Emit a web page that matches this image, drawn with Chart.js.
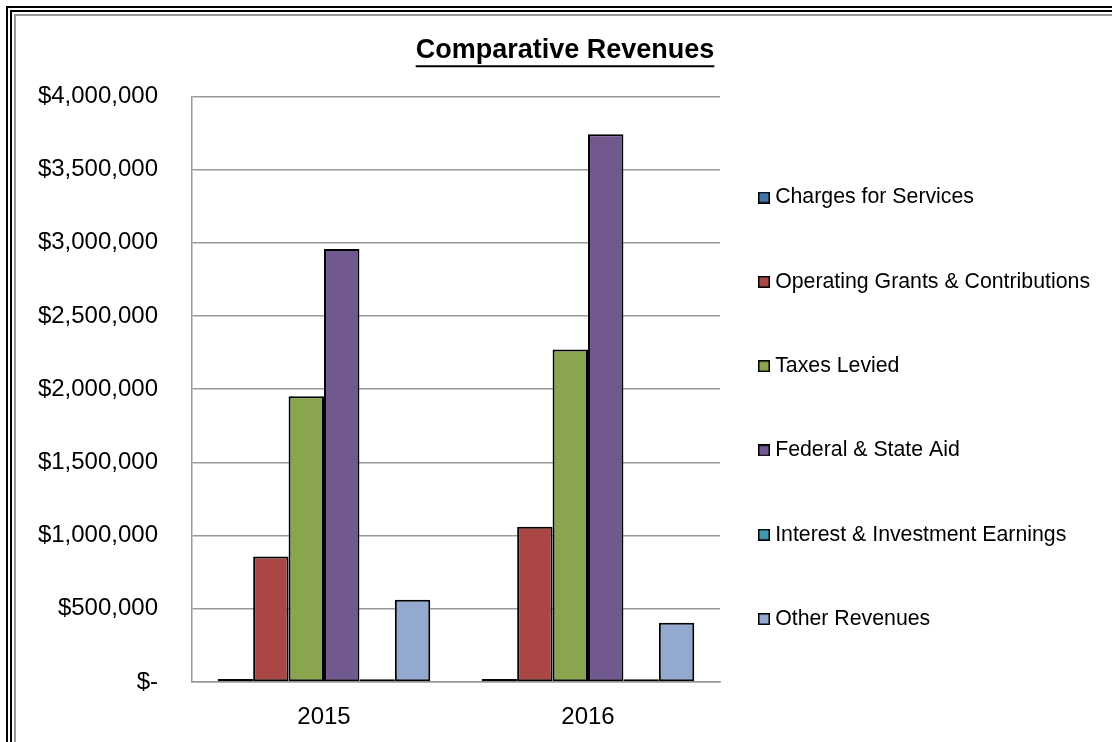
<!DOCTYPE html>
<html>
<head>
<meta charset="utf-8">
<title>Comparative Revenues</title>
<script src="https://cdn.jsdelivr.net/npm/chart.js@4.4.1/dist/chart.umd.min.js"></script>
<style>
	html, body { margin: 0; padding: 0; background: #fff; overflow: hidden; }
	.frame { position: absolute; width: 1200px; height: 800px; }
	#frame1 { left: 6px; top: 6px; border: 2px solid #000; }
	#frame2 { left: 10px; top: 10px; border: 2px solid #000; }
	#frame3 { left: 14px; top: 14px; border: 2px solid #999; }
	#myChart { position: absolute; left: 0; top: 0; }
</style>
</head>
<body>
<div class="frame" id="frame1"></div>
<div class="frame" id="frame2"></div>
<div class="frame" id="frame3"></div>
<canvas id="myChart" width="1112" height="742"></canvas>
<script>
const years = ['2015', '2016'];
const seriesNames = [
	'Charges for Services',
	'Operating Grants & Contributions',
	'Taxes Levied',
	'Federal & State Aid',
	'Interest & Investment Earnings',
	'Other Revenues'
];
const chargesForServices = [20000, 20000];
const operatingGrants = [857000, 1060000];
const taxesLevied = [1951000, 2271000];
const federalStateAid = [2958000, 3741000];
const interestEarnings = [18000, 18000];
const otherRevenues = [562000, 405000];
const seriesColors = ['#4572A7', '#AA4643', '#89A54E', '#71588F', '#4198AF', '#93A9CF'];

const FONT = '"Liberation Sans", Arial, sans-serif';

// small square swatches for the legend (filled, black edge)
const swatches = seriesColors.map((c) => {
	const cv = document.createElement('canvas');
	cv.width = 12;
	cv.height = 12;
	const g = cv.getContext('2d');
	g.fillStyle = c;
	g.fillRect(0, 0, 12, 12);
	g.strokeStyle = '#000';
	g.lineWidth = 1.5;
	g.strokeRect(0.75, 0.75, 10.5, 10.5);
	return cv;
});

function moneyTick(value) {
	if (value === 0) return '$-';
	return '$' + value.toLocaleString('en-US');
}

// legend and title sit a bit off from where Chart.js puts them by default
const placeBoxes = {
	id: 'placeBoxes',
	afterLayout(chart) {
		const lg = chart.legend;
		const pad = lg.options.labels.padding;
		lg.left = chart.chartArea.right + 43.5 - pad;
		lg.top = chart.chartArea.top + 90.5 - pad;
		lg.right = chart.width;
		lg.bottom = chart.height;
		chart.titleBlock.left += 18;
	},
	afterDraw(chart) {
		// underline the title
		const tb = chart.titleBlock;
		const ctx = chart.ctx;
		ctx.save();
		ctx.font = 'bold 27px ' + FONT;
		const w = ctx.measureText(tb.options.text).width;
		const cx = (tb.left + tb.right) / 2;
		const y = tb.top + tb.options.padding.top + 16.2 + 16;
		ctx.strokeStyle = '#000';
		ctx.lineWidth = 2;
		ctx.beginPath();
		ctx.moveTo(cx - w / 2, y);
		ctx.lineTo(cx + w / 2, y);
		ctx.stroke();
		ctx.restore();
	}
};

const seriesValues = [chargesForServices, operatingGrants, taxesLevied, federalStateAid, interestEarnings, otherRevenues];

const ctx = document.getElementById('myChart').getContext('2d');
const myChart = new Chart(ctx, {
	type: 'bar',
	data: {
		labels: years,
		datasets: seriesNames.map((name, i) => ({
			label: name,
			data: seriesValues[i],
			backgroundColor: seriesColors[i],
			borderColor: '#000',
			borderWidth: 2,
			borderSkipped: false,
			categoryPercentage: 0.805,
			barPercentage: 1
		}))
	},
	options: {
		responsive: false,
		animation: false,
		devicePixelRatio: 1,
		layout: {
			padding: { left: 0, right: 0, top: 20, bottom: 0 }
		},
		scales: {
			x: {
				grid: { display: false },
				border: { display: true, color: '#999', width: 1.5 },
				ticks: {
					color: '#000',
					padding: 13,
					font: { family: FONT, size: 24 }
				},
				afterFit(scale) { scale.height = 60; }
			},
			y: {
				min: 0,
				max: 4000000,
				grid: { color: '#999', lineWidth: 1.5, drawTicks: false },
				border: { display: true, color: '#999', width: 1.5 },
				ticks: {
					stepSize: 500000,
					color: '#000',
					padding: 34,
					font: { family: FONT, size: 24 },
					callback: moneyTick
				},
				afterFit(scale) { scale.width = 192; }
			}
		},
		plugins: {
			title: {
				display: true,
				text: 'Comparative Revenues',
				color: '#000',
				font: { family: FONT, size: 27, weight: 'bold' },
				padding: { top: 14, bottom: 30 }
			},
			legend: {
				display: true,
				position: 'right',
				align: 'start',
				maxWidth: 392,
				labels: {
					color: '#000',
					font: { family: FONT, size: 21.3 },
					usePointStyle: true,
					boxWidth: 1,
					padding: 63,
					generateLabels(chart) {
						const items = Chart.defaults.plugins.legend.labels.generateLabels(chart);
						items.forEach((it) => { it.pointStyle = swatches[it.datasetIndex]; });
						return items;
					}
				}
			},
			tooltip: { enabled: false }
		}
	},
	plugins: [placeBoxes]
});
</script>
</body>
</html>
